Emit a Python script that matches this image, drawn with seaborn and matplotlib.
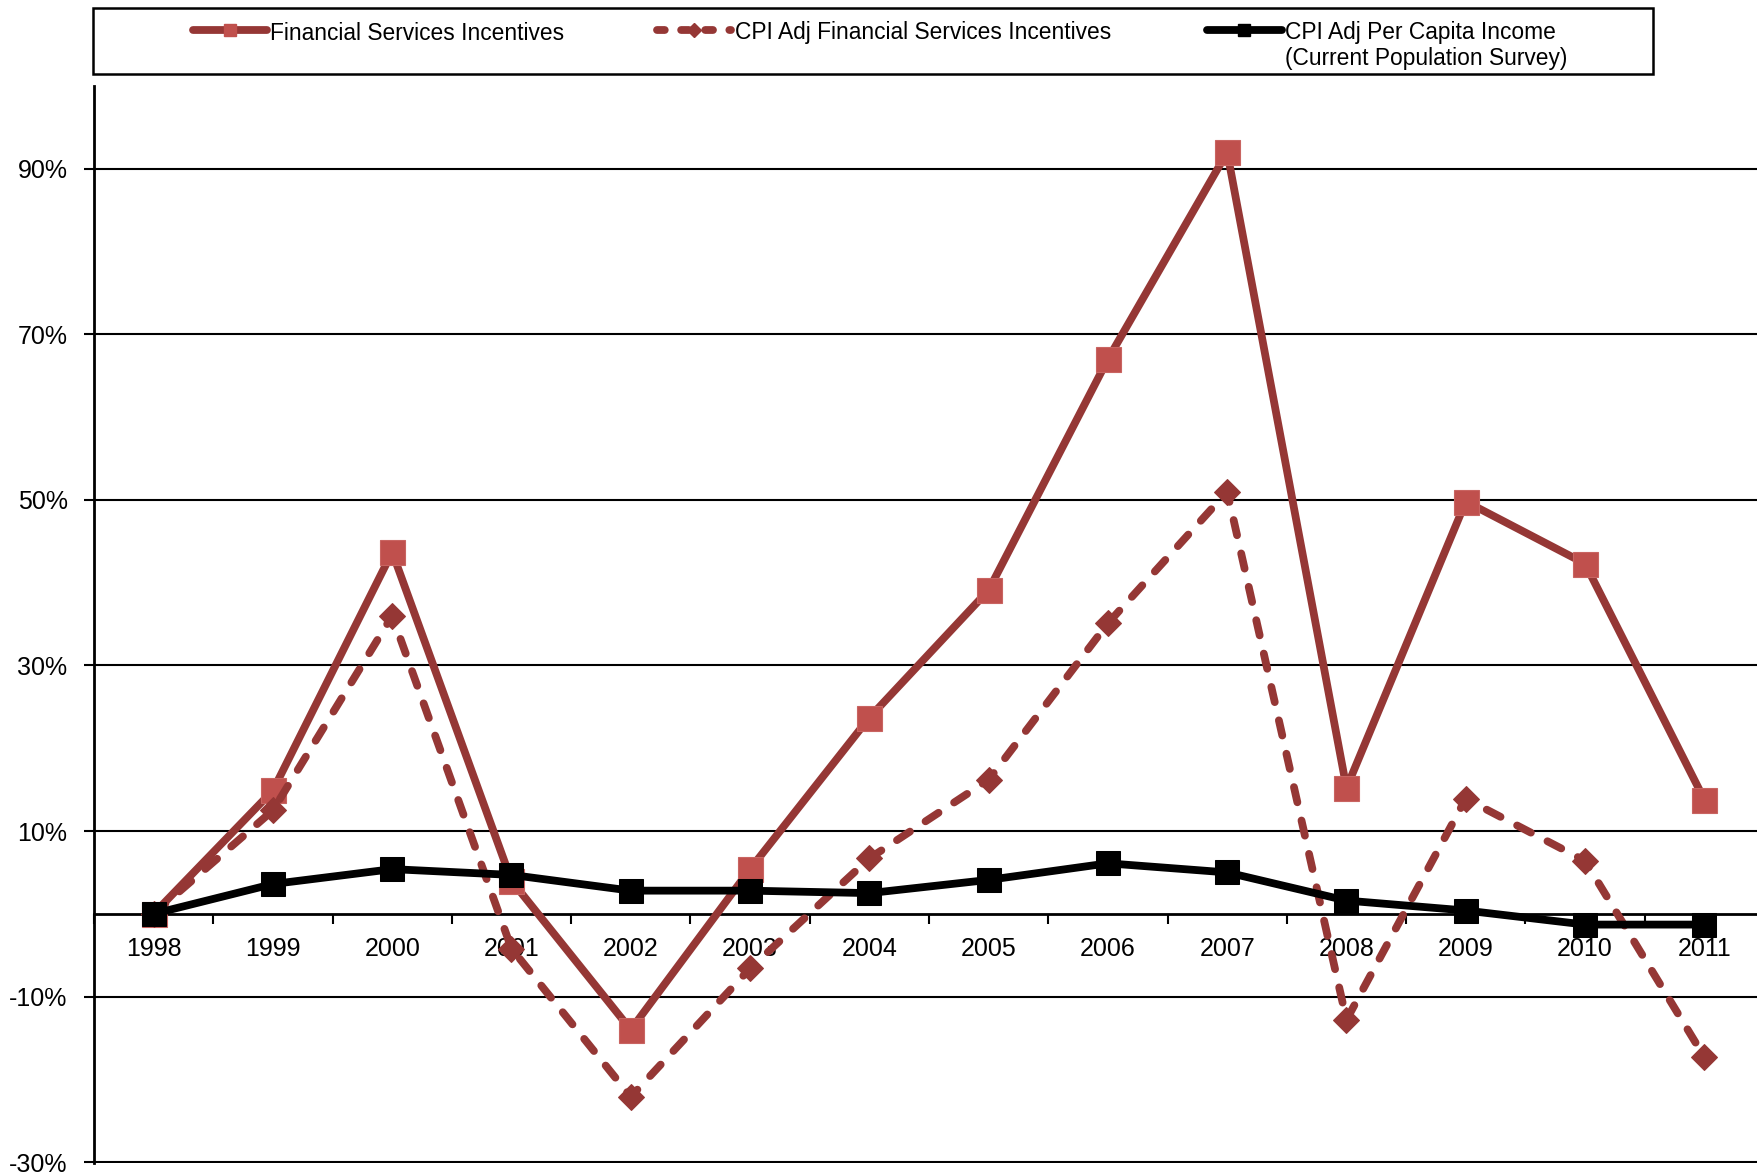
import numpy as np
import pandas as pd
import matplotlib
matplotlib.use("Agg")
import matplotlib.pyplot as plt
import seaborn as sns
from matplotlib.lines import Line2D
from matplotlib.patches import Rectangle

# Year-over-year change since 1998, in percent
years = [1998, 1999, 2000, 2001, 2002, 2003, 2004, 2005, 2006, 2007, 2008, 2009, 2010, 2011]
fin_services = [0.0, 14.9, 43.7, 4.0, -14.0, 5.4, 23.7, 39.1, 67.0, 92.0, 15.2, 49.8, 42.3, 13.8]
cpi_fin_services = [0.0, 12.5, 36.0, -4.2, -22.1, -6.6, 6.7, 16.2, 35.1, 51.0, -12.8, 13.9, 6.4, -17.3]
cpi_income = [0.0, 3.6, 5.4, 4.7, 2.8, 2.8, 2.5, 4.1, 6.1, 5.0, 1.6, 0.4, -1.3, -1.3]

y_ticks = [-30, -10, 10, 30, 50, 70, 90]
legend_labels = ["Financial Services Incentives",
                 "CPI Adj Financial Services Incentives",
                 "CPI Adj Per Capita Income",
                 "(Current Population Survey)"]

sns.set_theme(style="white")
plt.rcParams["font.family"] = ["Liberation Sans", "DejaVu Sans"]

DARK_RED = "#953735"
RED = "#C0504D"
DASH = (0, (2.0, 2.4))

W, H = 1758, 1176
fig = plt.figure(figsize=(W / 100, H / 100), dpi=100)
ax = fig.add_axes([94 / W, 13 / H, 1670 / W, 1077 / H])

pos = np.arange(len(years))
df = pd.DataFrame({"pos": pos,
                   "fin": fin_services,
                   "cpi_fin": cpi_fin_services,
                   "income": cpi_income})

LW = 5.6
sns.lineplot(data=df, x="pos", y="fin", ax=ax, color=DARK_RED, lw=LW,
             marker="s", markersize=18, markerfacecolor=RED,
             markeredgecolor="#C96461", markeredgewidth=0.8, zorder=3)
sns.lineplot(data=df, x="pos", y="cpi_fin", ax=ax, color=DARK_RED, lw=LW,
             linestyle=DASH, dash_capstyle="round",
             marker="D", markersize=13, markerfacecolor=DARK_RED,
             markeredgecolor=DARK_RED, zorder=4)
sns.lineplot(data=df, x="pos", y="income", ax=ax, color="black", lw=LW,
             marker="s", markersize=17, markerfacecolor="black",
             markeredgecolor="black", zorder=5)

ax.set_xlim(-0.5, len(years) - 0.5)
ax.set_ylim(-30.1, 100)
ax.set_xlabel("")
ax.set_ylabel("")

ax.set_yticks(y_ticks)
ax.set_yticklabels([f"{v}%" for v in y_ticks])
ax.yaxis.grid(True, color="black", lw=1.5)
ax.xaxis.grid(False)
ax.set_axisbelow(True)

for side in ("top", "right"):
    ax.spines[side].set_visible(False)
ax.spines["left"].set_color("black")
ax.spines["left"].set_linewidth(2)
ax.spines["bottom"].set_position(("data", 0))
ax.spines["bottom"].set_color("black")
ax.spines["bottom"].set_linewidth(2)

ax.set_xticks(pos)
ax.set_xticklabels([str(y) for y in years])
ax.set_xticks(np.arange(-0.5, len(years), 1.0), minor=True)
ax.tick_params(axis="x", which="major", length=0, pad=16.5, labelsize=18,
               labelcolor="black")
ax.tick_params(axis="x", which="minor", bottom=True, length=7, width=1.5,
               color="black", direction="out")
ax.tick_params(axis="y", left=True, length=7, width=1.5, color="black",
               direction="out", pad=12, labelsize=18, labelcolor="black")

# Legend box across the top
fig.patches.append(Rectangle((93 / W, 1 - 74 / H), 1560 / W, 66 / H,
                             transform=fig.transFigure, fill=False,
                             ec="black", lw=1.8))

def legend_handle(x0, x1, y, **kw):
    yy = 1 - y / H
    line = Line2D([x0 / W, x1 / W], [yy, yy], transform=fig.transFigure,
                  lw=LW, color=kw.pop("color"),
                  linestyle=kw.pop("linestyle", "-"),
                  dash_capstyle="round")
    fig.add_artist(line)
    mk = Line2D([(x0 + x1) / 2 / W], [yy], transform=fig.transFigure,
                linestyle="none", **kw)
    fig.add_artist(mk)

legend_handle(193, 267, 30, color=DARK_RED, marker="s", markersize=9,
              markerfacecolor=RED, markeredgecolor=RED)
legend_handle(657, 731, 30, color=DARK_RED, linestyle=(0, (1.0, 2.1)),
              marker="D", markersize=7, markerfacecolor=DARK_RED,
              markeredgecolor=DARK_RED)
legend_handle(1207, 1282, 30, color="black", marker="s", markersize=9,
              markerfacecolor="black", markeredgecolor="black")

LEG_FS = 16.4
fig.text(270 / W, 1 - 33 / H, legend_labels[0], ha="left", va="center",
         fontsize=LEG_FS, color="black")
fig.text(735 / W, 1 - 33 / H, legend_labels[1], ha="left", va="center",
         fontsize=LEG_FS, color="black")
fig.text(1285 / W, 1 - 33 / H, legend_labels[2], ha="left", va="center",
         fontsize=LEG_FS, color="black")
fig.text(1285 / W, 1 - 59 / H, legend_labels[3], ha="left", va="center",
         fontsize=LEG_FS, color="black")

fig.savefig("out.png", dpi=100)
